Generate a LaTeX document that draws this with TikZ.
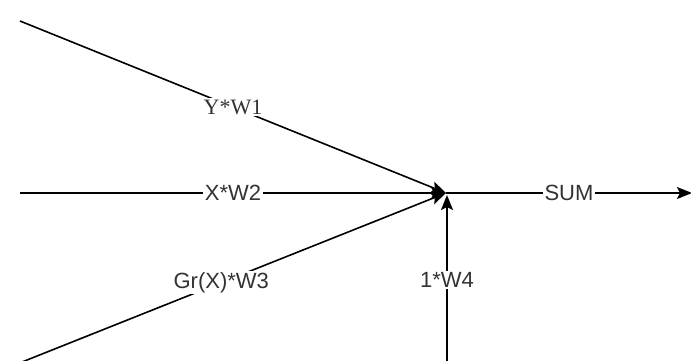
\documentclass[tikz,border=0pt]{standalone}
\usepackage{fontspec}
\setmainfont{Liberation Sans}
\newfontfamily\seriffont{Liberation Serif}
\usetikzlibrary{arrows.meta}
\begin{document}
\begin{tikzpicture}[x=1pt,y=-1pt,
  conn/.style={line width=1.6pt,draw=black,-{Stealth[length=15pt,width=12pt,inset=3pt]}},
  lbl/.style={fill=white,inner sep=1.5pt,text=black!80,font=\fontsize{22}{24}\selectfont},
  slbl/.style={lbl,font=\fontsize{22}{24}\selectfont\seriffont}]
\useasboundingbox (0,0) rectangle (691,360);
\fill[white] (0,0) rectangle (691,360);
\coordinate (s1) at (20,21);
\coordinate (s2) at (20,193);
\coordinate (s3) at (22,362);
\coordinate (s4) at (447,362);
\coordinate (c) at (446,193);
\coordinate (c4) at (447,195);
\coordinate (o) at (692,193);
\draw[conn] (s1) -- node[slbl] {Y*W1} (c);
\draw[conn] (s2) -- node[lbl] {X*W2} (c);
\draw[conn] (s3) -- node[lbl,pos=0.47] {Gr(X)*W3} (c);
\draw[conn] (s4) -- node[lbl,pos=0.49] {1*W4} (c4);
\draw[conn] (c) -- node[lbl] {SUM} (o);
\end{tikzpicture}
\end{document}
